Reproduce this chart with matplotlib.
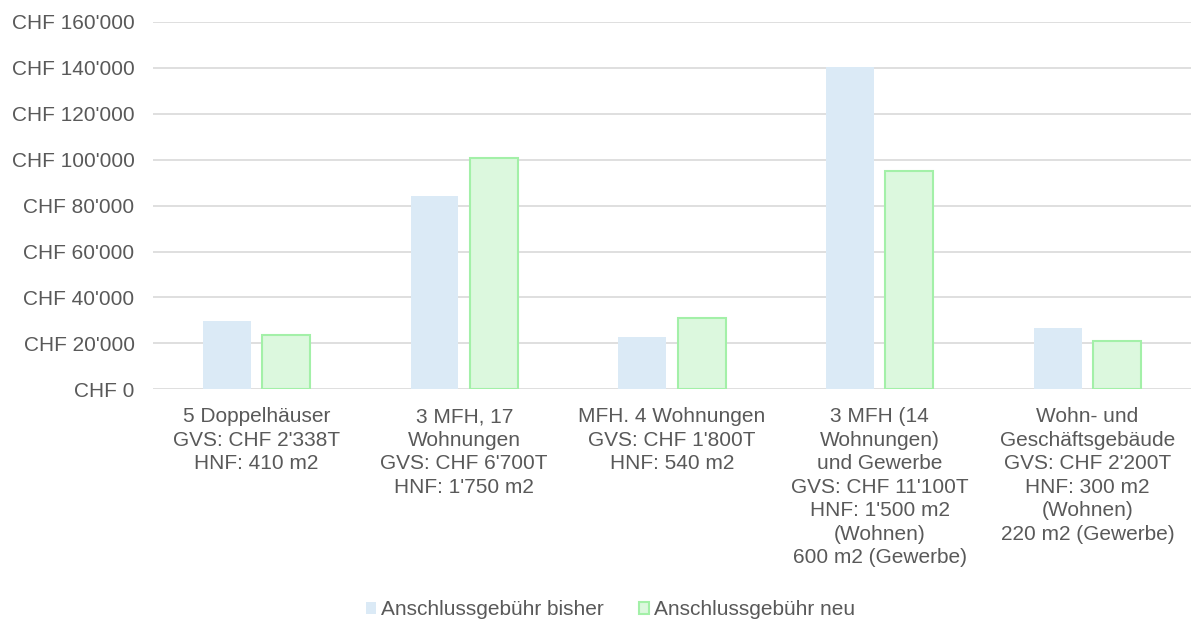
import numpy as np
import matplotlib.pyplot as plt

plt.rcParams['font.family'] = ['Liberation Sans', 'DejaVu Sans']

categories = [
    "5 Doppelhäuser\nGVS: CHF 2'338T\nHNF: 410 m2",
    "3 MFH, 17\nWohnungen\nGVS: CHF 6'700T\nHNF: 1'750 m2",
    "MFH. 4 Wohnungen\nGVS: CHF 1'800T\nHNF: 540 m2",
    "3 MFH (14\nWohnungen)\nund Gewerbe\nGVS: CHF 11'100T\nHNF: 1'500 m2\n(Wohnen)\n600 m2 (Gewerbe)",
    "Wohn- und\nGeschäftsgebäude\nGVS: CHF 2'200T\nHNF: 300 m2\n(Wohnen)\n220 m2 (Gewerbe)",
]
bisher = [29800, 84300, 22900, 140300, 26500]
neu = [23700, 100800, 31200, 95000, 21200]
series_labels = ["Anschlussgebühr bisher", "Anschlussgebühr neu"]

text_col = "#595959"
fs = 15

fig = plt.figure(figsize=(12.02, 6.21), dpi=100)
ax = fig.add_axes([0.127, 0.373, 0.864, 0.592])

x = np.arange(len(categories))
w = 0.23
ax.bar(x - 0.143, bisher, w, color="#dbeaf6", edgecolor="none",
       label=series_labels[0], zorder=2)
ax.bar(x + 0.143, neu, w, color="#dcf8de", edgecolor="#a3f0a8",
       linewidth=1.5, label=series_labels[1], zorder=2)

ax.set_xlim(-0.5, len(categories) - 0.5)
ax.set_ylim(0, 160000)
yt = np.arange(0, 160001, 20000)
ax.set_yticks(yt)
ax.set_yticklabels(["CHF " + f"{v:,}".replace(",", "'") for v in yt],
                   fontsize=fs, color=text_col)
ax.set_xticks(x)
ax.set_xticklabels(categories, fontsize=fs, color=text_col, linespacing=1.3)
ax.tick_params(length=0, pad=13)
ax.tick_params(axis="y", pad=13)
ax.grid(axis="y", color="#d9d9d9", linewidth=1.2, zorder=0)
for s in ax.spines.values():
    s.set_visible(False)

leg = fig.legend(loc="lower center", bbox_to_anchor=(0.508, -0.027), ncol=2,
                 frameon=False, fontsize=fs, handlelength=0.5,
                 handleheight=0.5, handletextpad=0.25, columnspacing=1.65)
for t in leg.get_texts():
    t.set_color(text_col)

fig.savefig("out.png", dpi=100)
